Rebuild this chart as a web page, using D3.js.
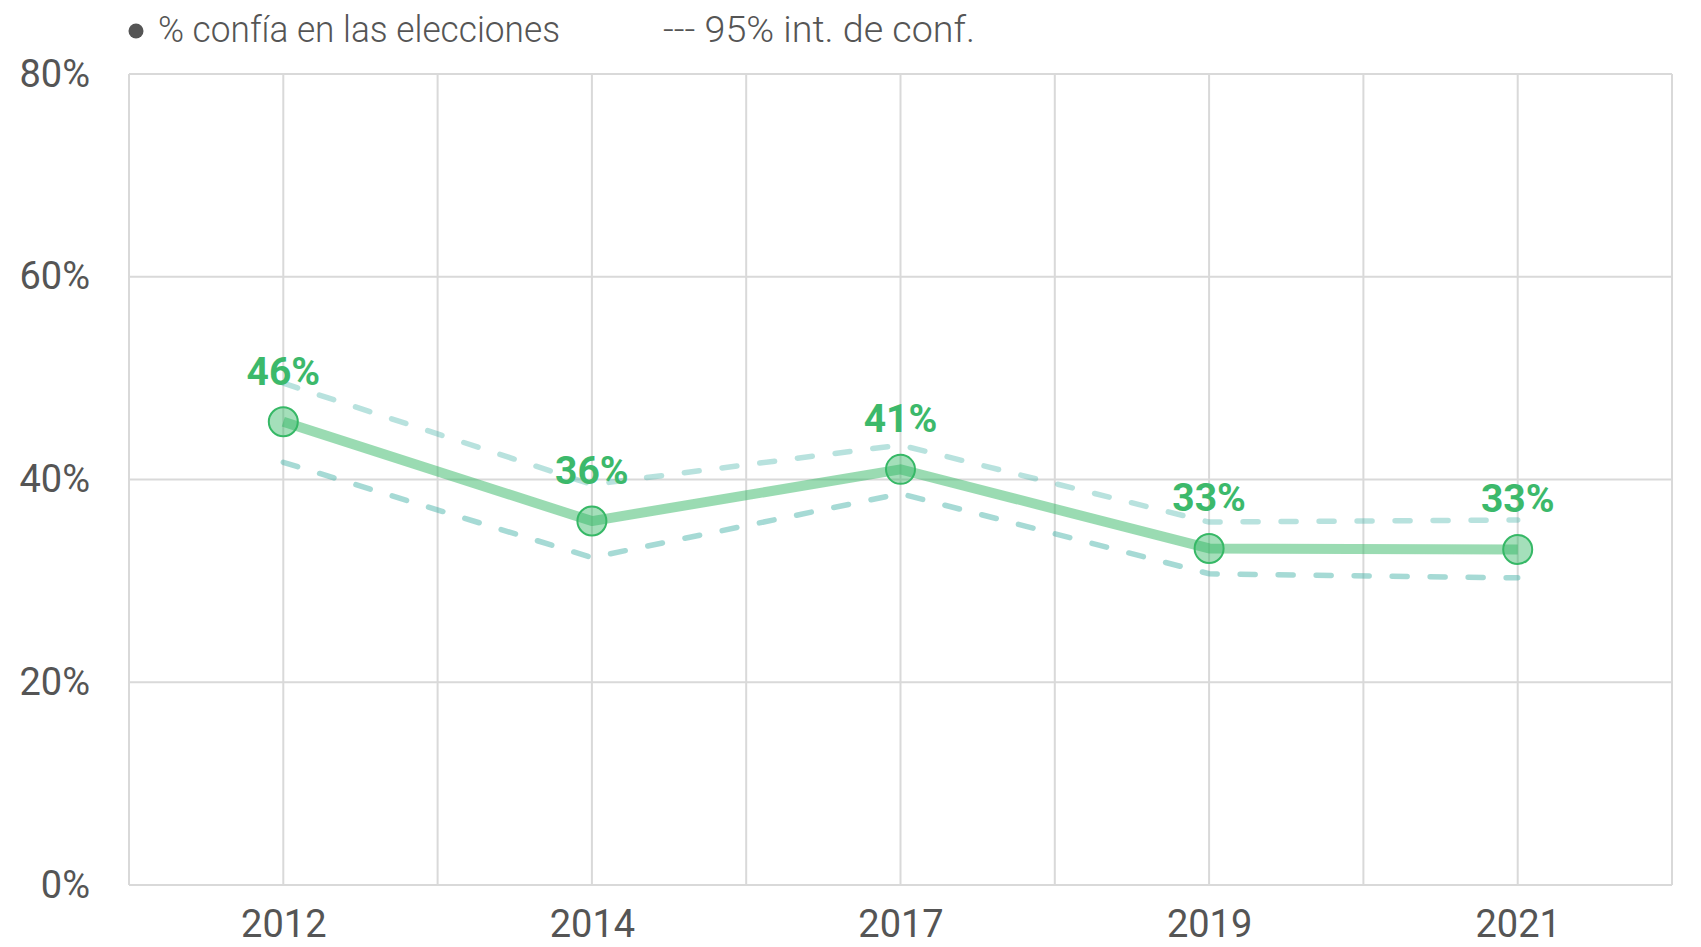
<!DOCTYPE html>
<html>
<head>
<meta charset="utf-8">
<script src="https://cdn.jsdelivr.net/npm/d3@7"></script>
<style>
  body { margin: 0; background: #fff; }
  text { font-family: Roboto, "Open Sans", sans-serif; }
</style>
</head>
<body>
<svg id="chart" width="1701" height="947"></svg>
<script>
// data
var years = ["2012", "2014", "2017", "2019", "2021"];
var trust = [45.7, 35.9, 41.0, 33.2, 33.1];
var upper = [49.5, 39.5, 43.4, 35.8, 36.0];
var lower = [41.7, 32.3, 38.6, 30.7, 30.3];
var labels = ["46%", "36%", "41%", "33%", "33%"];
var yTicks = [0, 20, 40, 60, 80];

// plot box (window.top is read-only, so no "top" here)
var plotLeft = 129, plotRight = 1672, plotTop = 74, plotBottom = 885;
var green = "#36b866";
var teal = "#4db6ac";

var svg = d3.select("#chart");

var x = d3.scalePoint().domain(years).range([plotLeft, plotRight]).padding(0.5);
var y = d3.scaleLinear().domain([0, 80]).range([plotBottom, plotTop]);

// grid: vertical lines every half step
var step = x.step();
var vx = d3.range(0, years.length * 2 + 1).map(function(i) { return plotLeft + i * step / 2; });

var grid = svg.append("g");
grid.selectAll("line.v").data(vx).enter().append("line")
    .attr("class", "v")
    .attr("x1", function(d) { return d; })
    .attr("x2", function(d) { return d; })
    .attr("y1", plotTop)
    .attr("y2", plotBottom)
    .attr("stroke", "#d9d9d9")
    .attr("stroke-width", 2);
grid.selectAll("line.h").data(yTicks).enter().append("line")
    .attr("class", "h")
    .attr("x1", plotLeft)
    .attr("x2", plotRight)
    .attr("y1", function(d) { return y(d); })
    .attr("y2", function(d) { return y(d); })
    .attr("stroke", "#d9d9d9")
    .attr("stroke-width", 2);

// y axis labels
var yAxis = svg.append("g")
    .attr("transform", "translate(" + (plotLeft - 39) + ",0)")
    .call(d3.axisLeft(y).tickValues(yTicks).tickSize(0).tickFormat(function(d) { return d + "%"; }));
yAxis.select(".domain").remove();
yAxis.selectAll("text")
    .attr("x", 0)
    .attr("dy", "0.32em")
    .attr("font-size", 38)
    .attr("font-family", "Roboto")
    .attr("fill", "#555");

// x axis labels
var xAxis = svg.append("g")
    .attr("transform", "translate(0," + plotBottom + ")")
    .call(d3.axisBottom(x).tickSize(0));
xAxis.select(".domain").remove();
xAxis.selectAll("text")
    .attr("y", 52)
    .attr("dy", 0)
    .attr("font-size", 38)
    .attr("font-family", "Roboto")
    .attr("fill", "#555");

// confidence interval lines
var line = d3.line()
    .x(function(d, i) { return x(years[i]); })
    .y(function(d) { return y(d); });

svg.append("path")
    .attr("d", line(upper))
    .attr("fill", "none")
    .attr("stroke", teal)
    .attr("stroke-opacity", 0.4)
    .attr("stroke-width", 5.5)
    .attr("stroke-linecap", "round")
    .attr("stroke-dasharray", "15,23");
svg.append("path")
    .attr("d", line(lower))
    .attr("fill", "none")
    .attr("stroke", teal)
    .attr("stroke-opacity", 0.5)
    .attr("stroke-width", 5.5)
    .attr("stroke-linecap", "round")
    .attr("stroke-dasharray", "15,23");

// main line
svg.append("path")
    .attr("d", line(trust))
    .attr("fill", "none")
    .attr("stroke", green)
    .attr("stroke-opacity", 0.5)
    .attr("stroke-width", 10)
    .attr("stroke-linejoin", "round");

// points
svg.selectAll("circle.pt").data(trust).enter().append("circle")
    .attr("class", "pt")
    .attr("cx", function(d, i) { return x(years[i]); })
    .attr("cy", function(d) { return y(d); })
    .attr("r", 14.5)
    .attr("fill", green)
    .attr("fill-opacity", 0.45)
    .attr("stroke", green)
    .attr("stroke-width", 2);

// value labels
svg.selectAll("text.lbl").data(labels).enter().append("text")
    .attr("class", "lbl")
    .attr("x", function(d, i) { return x(years[i]); })
    .attr("y", function(d, i) { return y(trust[i]) - 37; })
    .attr("text-anchor", "middle")
    .attr("font-size", 39)
    .attr("font-weight", "bold")
    .attr("font-family", "Roboto")
    .attr("fill", "#3cb96b")
    .text(function(d) { return d; });

// legend
var legend = svg.append("g");
legend.append("circle")
    .attr("cx", 136)
    .attr("cy", 31)
    .attr("r", 7.5)
    .attr("fill", "#555");
legend.append("text")
    .attr("x", 158)
    .attr("y", 42)
    .attr("font-size", 36)
    .attr("font-weight", 300)
    .attr("font-family", "Lato")
    .attr("fill", "#555")
    .attr("textLength", 402)
    .attr("lengthAdjust", "spacingAndGlyphs")
    .text("% confía en las elecciones");
legend.append("text")
    .attr("x", 663)
    .attr("y", 42)
    .attr("font-size", 36)
    .attr("font-weight", 300)
    .attr("font-family", "Lato")
    .attr("fill", "#555")
    .attr("textLength", 312)
    .attr("lengthAdjust", "spacingAndGlyphs")
    .text("--- 95% int. de conf.");
</script>
</body>
</html>
